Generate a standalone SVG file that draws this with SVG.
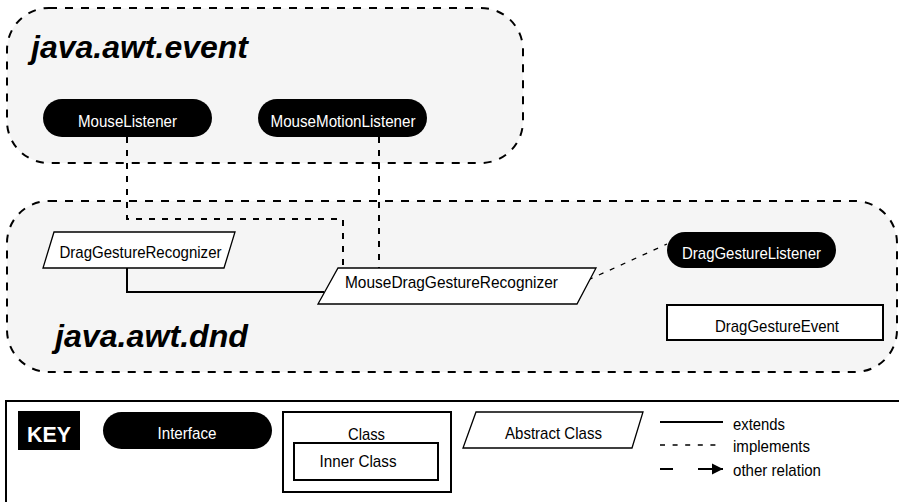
<svg xmlns="http://www.w3.org/2000/svg" width="899" height="502" viewBox="0 0 899 502">
  <style>
    text { font-family: "Liberation Sans", Arial, sans-serif; font-size: 17px; fill: #000; }
    .pkg { fill: #f5f5f5; stroke: #000; stroke-width: 2; stroke-dasharray: 8 8; }
    .pkglabel { font-size: 32px; font-weight: bold; font-style: italic; }
    .iface { fill: #000; }
    .iface-text { fill: #fff; text-anchor: middle; }
    .abstract { fill: #fff; stroke: #000; stroke-width: 1.3; }
    .cls { fill: #fff; stroke: #000; stroke-width: 2; }
    .mid { text-anchor: middle; }
    .impl { fill: none; stroke: #000; stroke-width: 2; stroke-dasharray: 6 7; }
    .ext { fill: none; stroke: #000; stroke-width: 2; }
    .rel { fill: none; stroke: #000; stroke-width: 1.3; stroke-dasharray: 5 7; }
  </style>
  <defs>
    <marker id="arrow" viewBox="0 0 10 10" refX="10" refY="5" markerWidth="11" markerHeight="15" markerUnits="userSpaceOnUse" orient="auto">
      <path d="M0,0 L10,5 L0,10 z" fill="#000"/>
    </marker>
  </defs>

  <!-- packages -->
  <g id="pkg-event">
    <rect class="pkg" x="7" y="8" width="516" height="155" rx="42" ry="42"/>
    <text class="pkglabel" x="31" y="58" textLength="217" lengthAdjust="spacingAndGlyphs">java.awt.event</text>
  </g>
  <g id="pkg-dnd">
    <rect class="pkg" x="7" y="201" width="890" height="171" rx="42" ry="42"/>
    <text class="pkglabel" x="55" y="347" textLength="193" lengthAdjust="spacingAndGlyphs">java.awt.dnd</text>
  </g>

  <!-- connectors -->
  <g id="connectors">
    <polyline class="impl" points="127,137 127,219 343,219 343,268"/>
    <line class="impl" x1="379" y1="137" x2="379" y2="268"/>
    <polyline class="ext" points="127,268 127,292 324,292"/>
    <line class="rel" x1="588" y1="280" x2="667" y2="244"/>
  </g>

  <!-- nodes -->
  <g id="MouseListener">
    <rect class="iface" x="43" y="99" width="169" height="38" rx="19"/>
    <text class="iface-text" x="127.5" y="126.5" textLength="99" lengthAdjust="spacingAndGlyphs">MouseListener</text>
  </g>
  <g id="MouseMotionListener">
    <rect class="iface" x="258" y="99" width="169" height="38" rx="19"/>
    <text class="iface-text" x="343" y="126.5" textLength="145" lengthAdjust="spacingAndGlyphs">MouseMotionListener</text>
  </g>
  <g id="DragGestureRecognizer">
    <polygon class="abstract" points="54,232 235,232 224,268 43,268"/>
    <text class="mid" x="140.5" y="258" textLength="162" lengthAdjust="spacingAndGlyphs">DragGestureRecognizer</text>
  </g>
  <g id="MouseDragGestureRecognizer">
    <polygon class="abstract" points="338,268 596,268 577,304 318,304"/>
    <text class="mid" x="451.5" y="288" textLength="213" lengthAdjust="spacingAndGlyphs">MouseDragGestureRecognizer</text>
  </g>
  <g id="DragGestureListener">
    <rect class="iface" x="667" y="232" width="169" height="36" rx="18"/>
    <text class="iface-text" x="751.5" y="259" textLength="139" lengthAdjust="spacingAndGlyphs">DragGestureListener</text>
  </g>
  <g id="DragGestureEvent">
    <rect class="cls" x="667" y="305" width="216" height="35"/>
    <text class="mid" x="777" y="332" textLength="124" lengthAdjust="spacingAndGlyphs">DragGestureEvent</text>
  </g>

  <!-- key -->
  <g id="key">
    <rect x="6" y="401" width="900" height="110" fill="#fff" stroke="#000" stroke-width="2"/>
    <rect x="18" y="411" width="62" height="39" fill="#000"/>
    <text x="27" y="442" style="font-size:22px;font-weight:bold;fill:#fff" textLength="44" lengthAdjust="spacingAndGlyphs">KEY</text>

    <rect class="iface" x="103" y="412" width="169" height="37" rx="18.5"/>
    <text class="iface-text" x="187" y="439" textLength="59" lengthAdjust="spacingAndGlyphs">Interface</text>

    <rect class="cls" x="283" y="412" width="168" height="80"/>
    <text class="mid" x="366.5" y="440" textLength="37" lengthAdjust="spacingAndGlyphs">Class</text>
    <rect class="cls" x="294" y="443" width="144" height="37"/>
    <text class="mid" x="358" y="467" textLength="77" lengthAdjust="spacingAndGlyphs">Inner Class</text>

    <polygon class="abstract" points="476,412 643,412 632,448 463,448"/>
    <text class="mid" x="553.5" y="439" textLength="97" lengthAdjust="spacingAndGlyphs">Abstract Class</text>

    <line class="ext" x1="660" y1="422" x2="723" y2="422"/>
    <text x="733" y="430" textLength="52" lengthAdjust="spacingAndGlyphs">extends</text>
    <line x1="660" y1="445" x2="723" y2="445" stroke="#000" stroke-width="1.5" stroke-dasharray="5 7.6"/>
    <text x="733" y="452" textLength="77" lengthAdjust="spacingAndGlyphs">implements</text>
    <line x1="660" y1="469" x2="673" y2="469" stroke="#000" stroke-width="2"/>
    <line x1="698" y1="469" x2="723" y2="469" stroke="#000" stroke-width="2" marker-end="url(#arrow)"/>
    <text x="733" y="476" textLength="88" lengthAdjust="spacingAndGlyphs">other relation</text>
  </g>
</svg>
